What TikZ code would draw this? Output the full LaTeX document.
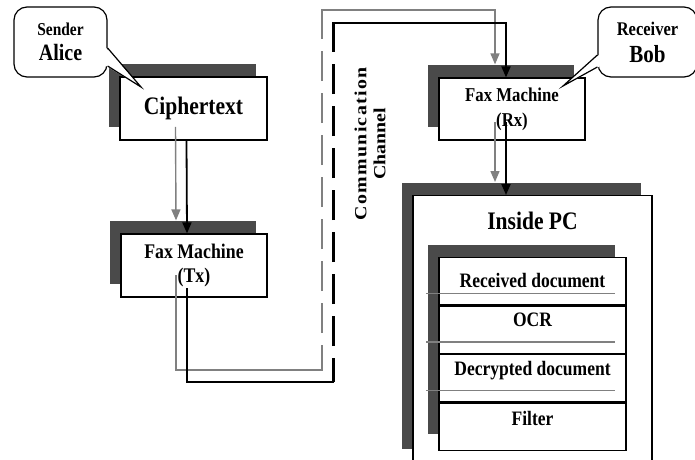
\documentclass[tikz,border=0pt]{standalone}
\usepackage{fontspec}
\setmainfont{Liberation Serif}[FakeStretch=0.855]
\newfontfamily\chanfont{Liberation Serif}[FakeStretch=1.17]
\usepackage{tikz}
\usetikzlibrary{arrows.meta, positioning, shadows}
\definecolor{shade}{HTML}{4A4A4A}
\definecolor{linkgray}{HTML}{808080}
\tikzset{
  box/.style={rectangle, draw=black, line width=1.2pt, fill=white, align=center,
              font=\bfseries\fontsize{20.8}{24}\selectfont,
              general shadow={fill=shade, shadow xshift=-11pt, shadow yshift=13pt}},
  fax/.style={minimum width=146pt, minimum height=63pt},
  bubble/.style={rectangle, rounded corners=13pt, draw=black, line width=1.2pt,
                 fill=white, align=center, inner sep=0pt},
  bubbleedge/.style={draw=black, line width=1.2pt, line join=miter},
  rowbox/.style={rectangle, draw=black, line width=1.2pt, fill=white,
                 minimum width=187pt, minimum height=47.25pt, inner sep=0pt},
  rowtext/.style={font=\bfseries\fontsize{20.5}{22}\selectfont, anchor=base},
  rowline/.style={draw=linkgray, line width=1.2pt},
  link/.style={line width=1.8pt, draw=black, line cap=rect},
  shadelink/.style={line width=1.4pt, draw=linkgray, line cap=rect},
  tip/.style={-{Triangle[width=9pt,length=11pt]}},
  chan/.style={dash pattern=on 30pt off 12pt, line cap=butt},
  chanlabel/.style={rotate=90, align=center, font=\chanfont\bfseries\fontsize{17}{19}\selectfont},
}
\begin{document}
\begin{tikzpicture}[x=1pt, y=1pt]
  \useasboundingbox (0,0) rectangle (695,459);
  \clip (0,0) rectangle (695,459);

  % sender side
  \node[box, minimum width=147pt, minimum height=63pt,
        font=\bfseries\fontsize{25.2}{28}\selectfont] (cipher) at (193.5,350.5) {Ciphertext};
  \node[box, fax] (faxtx) at (194,193.5) {Fax Machine\\(Tx)};

  % receiver side
  \node[box, fax, minimum height=62pt, font=\bfseries\fontsize{19.6}{25}\selectfont] (faxrx) at (512,350) {Fax Machine\\(Rx)};
  \node[box, minimum width=239pt, minimum height=266pt, anchor=north] (pc) at (532.5,264) {};
  \node[font=\bfseries\fontsize{25.2}{28}\selectfont, anchor=base] (pctitle)
        at ([yshift=-34pt]pc.north) {Inside PC};
  \node[box, minimum width=187pt, minimum height=189pt, anchor=north] (stack) at (532.5,202) {};
  \node[rowbox, anchor=north] (r1) at (stack.north) {};
  \node[rowbox, below=0pt of r1] (r2) {};
  \node[rowbox, below=0pt of r2] (r3) {};
  \node[rowbox, below=0pt of r3] (r4) {};
  \foreach \r in {r1,r2,r3}
    \draw[rowline] ([shift={(-12pt,12pt)}]\r.south west) -- ([shift={(-12pt,12pt)}]\r.south east);
  \node[rowtext] (t1) at ([yshift=-30pt]r1.north) {Received document};
  \node[rowtext] (t2) at ([yshift=-21pt]r2.north) {OCR};
  \node[rowtext] (t3) at ([yshift=-22pt]r3.north) {Decrypted document};
  \node[rowtext] (t4) at ([yshift=-23pt]r4.north) {Filter};

  % channel
  \node[chanlabel] (chantext) at (370,315) {{\addfontfeature{LetterSpace=8}Communication}\\Channel};
  \coordinate (chanlow) at (333,77);
  \coordinate (chanhigh) at (333,436);
  \coordinate (shadelow) at (322,89);
  \coordinate (shadehigh) at (322,449);

  % grey copies of the links
  \draw[shadelink, tip] ([shift={(-18pt,13pt)}]cipher.south) -- ([shift={(-18pt,13pt)}]faxtx.north);
  \draw[shadelink] ([shift={(-18pt,22pt)}]faxtx.south) |- (shadelow);
  \draw[shadelink, chan, line width=2pt, dash phase=5pt] (shadelow) -- (shadehigh);
  \draw[shadelink, tip] (shadehigh) -| ([shift={(-17pt,13pt)}]faxrx.north);
  \draw[shadelink, tip] ([shift={(-17pt,18pt)}]faxrx.south) -- ([shift={(-37.5pt,13pt)}]pc.north);

  % black links
  \draw[link, tip] ([xshift=-7pt]cipher.south) -- ([xshift=-7pt]faxtx.north);
  \draw[link] ([shift={(-7pt,9pt)}]faxtx.south) |- (chanlow);
  \draw[link, chan, line width=3pt, dash phase=6pt] (chanlow) -- (chanhigh);
  \draw[link, tip] (chanhigh) -| ([xshift=-6pt]faxrx.north);
  \draw[link, tip] ([shift={(-6pt,18pt)}]faxrx.south) -- ([xshift=-26.5pt]pc.north);

  % speech bubbles
  \node[bubble, minimum width=93pt, minimum height=70pt, font=\bfseries\fontsize{23.4}{25}\selectfont]
        (sender) at (60.5,417) {{\fontsize{18.1}{25}\selectfont Sender}\\Alice};
  \coordinate (alicetip) at (141,372);
  \fill[white] ([shift={(-1.5pt,-6pt)}]sender.east) -- (alicetip) -- ([shift={(-1.5pt,-24pt)}]sender.east) -- cycle;
  \draw[bubbleedge] ([yshift=-6pt]sender.east) -- (alicetip) -- ([yshift=-24pt]sender.east);

  \node[bubble, minimum width=99pt, minimum height=70pt, font=\bfseries\fontsize{24.6}{27}\selectfont]
        (receiver) at (647.5,417) {{\fontsize{19.3}{27}\selectfont Receiver}\\Bob};
  \coordinate (bobtip) at (563,373);
  \fill[white] ([shift={(1.5pt,-13pt)}]receiver.west) -- (bobtip) -- ([shift={(1.5pt,-25pt)}]receiver.west) -- cycle;
  \draw[bubbleedge] ([yshift=-13pt]receiver.west) -- (bobtip) -- ([yshift=-25pt]receiver.west);
\end{tikzpicture}
\end{document}
